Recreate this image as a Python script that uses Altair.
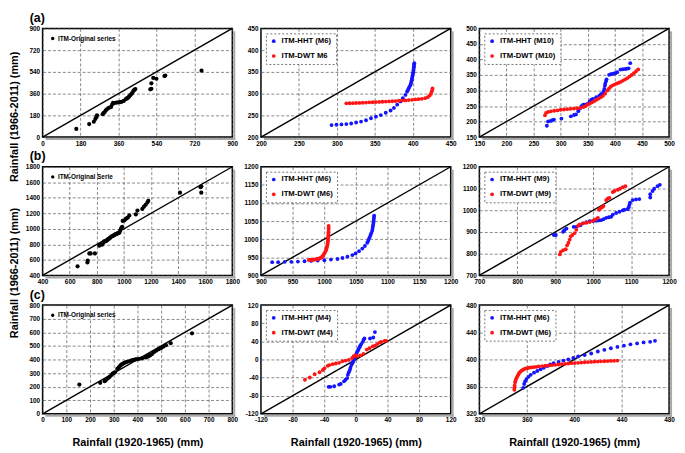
import altair as alt
import pandas as pd

FONT = "Liberation Sans"

# ---------------- data ----------------
# (a) row
a1_x = [160, 221, 243, 250, 255, 258, 285, 290, 295, 300, 305, 312, 318, 325, 330, 334, 340, 350, 360, 368,
        375, 385, 395, 400, 405, 410, 415, 420, 425, 430, 435, 440, 511, 516, 516, 525, 540, 578, 582, 754]
a1_y = [68, 108, 127, 150, 165, 181, 190, 200, 208, 222, 230, 240, 245, 250, 270, 283, 282, 285, 288, 290,
        292, 300, 315, 320, 325, 335, 345, 355, 365, 380, 392, 398, 396, 400, 445, 490, 483, 505, 510, 550]

a2_hht_x = [293.0, 299.5, 306.0, 312.5, 318.9, 325.4, 331.9, 338.4, 344.9, 351.4, 357.9, 364.4, 370.8, 375.2,
            379.5, 383.8, 386.9, 390.3, 392.5, 393.5, 394.6, 395.6, 396.8, 397.5, 398.1, 398.6, 399.0, 399.4,
            399.8, 400.2, 400.7, 400.9, 401.1, 401.4, 401.6, 401.8, 402.0]
a2_hht_y = [227.6, 228.4, 229.1, 229.9, 231.3, 233.6, 235.8, 238.8, 243.3, 247.0, 250.7, 256.0, 261.2, 267.2,
            274.6, 282.1, 289.6, 297.0, 304.5, 308.0, 311.9, 315.6, 319.4, 323.0, 326.9, 330.6, 334.3, 338.0,
            341.8, 345.5, 349.3, 353.0, 356.7, 360.5, 364.2, 367.0, 370.1]
a2_dwt_x = [312.5, 316.8, 321.1, 325.4, 329.8, 334.1, 338.4, 342.7, 347.1, 351.4, 355.7, 360.0, 364.4, 368.7,
            373.0, 377.3, 381.7, 386.0, 390.3, 394.6, 399.0, 403.3, 407.6, 411.9, 416.3, 419.7, 422.3, 424.0,
            424.9, 425.8, 426.0]
a2_dwt_y = [277.6, 277.8, 278.0, 278.4, 278.7, 279.1, 279.5, 279.9, 280.2, 280.6, 281.0, 281.3, 281.7, 282.1,
            282.5, 282.8, 283.6, 284.0, 284.3, 285.1, 285.8, 286.6, 287.3, 288.1, 289.6, 291.8, 295.5, 300.0,
            304.5, 309.0, 312.0]

a3_hht_x = [274.5, 276.9, 281.7, 284.6, 287.6, 301.4, 318.8, 324.7, 328.3, 332.5, 335.5, 338.5, 341.5, 344.5,
            347.5, 350.5, 353.5, 356.5, 359.5, 365.4, 371.4, 374.4, 377.4, 379.0, 380.4, 381.5, 382.2, 383.5,
            384.6, 389.4, 392.5, 395.4, 398.5, 401.3, 404.3, 410.3, 414.5, 419.3, 422.5, 425.3, 428.3]
a3_hht_y = [186.6, 200.2, 202.2, 204.3, 206.4, 209.6, 216.9, 221.1, 223.1, 233.6, 242.0, 249.3, 254.5, 254.5,
            255.5, 257.6, 264.9, 270.2, 273.3, 278.5, 283.8, 287.9, 290.0, 296.0, 305.0, 315.0, 322.0, 329.7,
            336.0, 350.6, 352.5, 353.8, 354.8, 355.9, 359.0, 367.3, 368.5, 369.4, 370.5, 371.5, 388.2]
a3_dwt_x = [271, 273, 277, 282, 288, 294, 300, 306, 312, 318, 324, 330, 336, 342, 346, 350, 354, 358, 362, 366,
            370, 374, 378, 382, 386, 389, 392, 395, 399, 403, 407, 411, 415, 419, 423, 427, 431, 435, 439, 443]
a3_dwt_y = [220, 228, 231, 233, 235, 236, 238, 239, 240, 241, 242, 243, 244, 247, 250, 255, 258, 262, 266, 270,
            274, 278, 283, 290, 300, 306, 312, 316, 319, 322, 325, 328, 332, 336, 340, 345, 350, 356, 362, 368]

# (b) row
b1_x = [658, 731, 733, 745, 755, 786, 818, 822, 839, 847, 854, 865, 871, 877, 883, 889, 895, 901, 907, 913,
        919, 925, 931, 937, 943, 949, 955, 961, 967, 972, 979, 987, 991, 1004, 1016, 1028, 1040, 1088, 1100,
        1136, 1148, 1161, 1173, 1180, 1414, 1566, 1571, 1571]
b1_y = [517, 567, 592, 684, 684, 684, 784, 793, 797, 818, 839, 840, 847, 855, 868, 872, 880, 890, 901, 905,
        910, 915, 922, 928, 935, 938, 943, 948, 952, 977, 1006, 1027, 1102, 1110, 1131, 1144, 1173, 1186, 1236,
        1257, 1286, 1311, 1340, 1361, 1466, 1537, 1549, 1466]

b2_hht_x = [917.7, 927.1, 937.6, 948.0, 958.4, 968.9, 979.3, 989.7, 1000.2, 1010.6, 1021.0, 1028.9, 1036.7,
            1044.5, 1049.7, 1055.0, 1060.2, 1064.3, 1068.0, 1069.5, 1070.6, 1072.0, 1073.2, 1074.5, 1075.8,
            1076.4, 1076.9, 1077.4, 1077.9, 1078.2, 1078.4, 1078.7, 1079.0]
b2_hht_y = [936.6, 936.6, 937.5, 937.5, 938.4, 939.3, 940.2, 941.1, 942.0, 943.8, 945.5, 948.2, 951.8,
            956.3, 960.7, 967.0, 974.1, 981.3, 990.2, 995.0, 1000.9, 1006.0, 1011.6, 1017.0, 1023.2,
            1029.0, 1034.8, 1040.0, 1045.5, 1051.0, 1056.3, 1061.0, 1065.2]
b2_dwt_x = [975.7, 977.5, 979.3, 981.0, 982.8, 984.5, 986.2, 988.0, 989.7, 991.5, 993.2, 995.0, 996.3, 997.6,
            998.9, 1000.2, 1001.5, 1002.8, 1003.6, 1004.3, 1004.9, 1005.4, 1005.7, 1005.9, 1006.2, 1006.4,
            1006.6, 1006.7, 1006.8, 1006.9, 1007.0, 1007.0]
b2_dwt_y = [942.9, 943.0, 943.0, 943.3, 943.6, 943.8, 944.3, 944.9, 945.5, 946.5, 947.6, 949.1, 951.2, 953.6,
            957.0, 960.7, 965.0, 969.6, 974.0, 978.6, 983.0, 987.5, 992.0, 996.4, 1001.0, 1005.4,
            1010.0, 1014.3, 1019.0, 1023.2, 1030.0, 1036.6]

b3_hht_x = [896.3, 901.6, 920.8, 924.0, 929.5, 948.7, 955.7, 966.1, 973.1, 981.8, 990.6, 1000.0, 1008.0, 1015.0,
            1021.1, 1027.2, 1034.2, 1041.2, 1047.3, 1051.7, 1060.4, 1069.1, 1077.8, 1082.2, 1090.9, 1093.5,
            1095.3, 1097.0, 1104.0, 1112.7, 1121.5, 1150.3, 1150.3, 1156.4, 1160.7, 1169.5, 1175.6]
b3_hht_y = [886.0, 886.0, 900.9, 908.0, 915.8, 923.2, 923.2, 930.7, 939.6, 945.5, 950.0, 950.5, 951.5, 953.0,
            954.5, 958.9, 964.9, 967.9, 969.9, 979.8, 987.2, 993.2, 999.1, 1002.1, 1005.1, 1014.0,
            1024.4, 1034.8, 1046.7, 1049.7, 1051.2, 1058.6, 1073.5, 1088.4, 1098.8, 1110.7, 1116.7]
b3_dwt_x = [912.0, 914.7, 920.8, 927.7, 931.2, 934.7, 938.2, 940.8, 945.2, 951.3, 955.7, 960.0, 964.4, 973.1,
            981.8, 990.6, 999.3, 1006.3, 1012.4, 1015.0, 1018.5, 1023.7, 1027.2, 1034.2, 1038.6, 1043.0,
            1051.7, 1056.0, 1064.8, 1070.9, 1077.8, 1084.8]
b3_dwt_y = [796.7, 808.6, 816.1, 820.5, 838.4, 850.3, 865.2, 880.1, 886.0, 894.9, 909.8, 927.7, 935.1, 939.6,
            942.6, 945.5, 951.5, 957.4, 964.9, 1002.1, 1008.0, 1014.0, 1019.9, 1046.7, 1054.2, 1057.1,
            1083.9, 1088.4, 1094.3, 1098.8, 1106.3, 1110.7]

# (c) row
c1_x = [155, 243, 262, 268, 272, 278, 283, 290, 295, 300, 305, 315, 320, 325, 330, 335, 340, 345, 352, 360,
        370, 378, 385, 392, 400, 410, 420, 435, 440, 445, 450, 455, 462, 470, 480, 490, 500, 510, 520, 540, 630]
c1_y = [215, 228, 240, 250, 258, 265, 272, 285, 295, 300, 305, 330, 338, 350, 358, 365, 370, 375, 380, 385,
        390, 395, 398, 400, 402, 405, 408, 415, 420, 422, 428, 432, 440, 455, 465, 475, 485, 495, 505, 520, 592]

c2_hht_x = [-34.4, -32.3, -27.4, -21.2, -19.1, -15.0, -13.0, -10.9, -10.1, -8.9, -7.6, -6.8, -5.6, -4.7, -3.5,
            -2.7, -1.4, -0.6, 0.6, 1.4, 2.7, 3.5, 4.7, 5.6, 6.8, 8.9, 9.7, 10.9, 17.9, 22.0, 24.1]
c2_hht_y = [-60.5, -60.5, -59.1, -55.5, -54.1, -48.4, -44.8, -41.2, -34.0, -28.3, -23.3, -18.3, -12.5, -9.0,
            -5.4, -1.8, 3.2, 7.5, 12.5, 16.1, 19.7, 23.3, 26.9, 30.4, 34.0, 39.0, 43.3, 46.2, 46.2, 48.4, 60.5]
c2_dwt_x = [-64.4, -58.3, -52.1, -45.9, -41.8, -39.7, -35.6, -33.6, -29.4, -25.3, -21.2, -17.1, -13.0, -8.9,
            -4.7, -2.7, -0.6, 1.4, 5.6, 9.7, 13.8, 17.1, 21.2, 24.1, 27.0, 30.3, 32.3, 36.4, 38.5]
c2_dwt_y = [-44.8, -39.8, -32.6, -28.3, -23.3, -19.7, -14.0, -12.5, -10.4, -9.0, -7.5, -3.9, -2.5, -1.1,
            3.2, 7.5, 9.0, 7.5, 9.0, 12.5, 21.8, 24.7, 29.0, 30.4, 34.0, 37.6, 39.0, 41.2, 41.2]

c3_hht_x = [357.0, 357.8, 358.6, 359.7, 361.4, 363.3, 366.1, 368.8, 371.6, 374.3, 377.1, 379.9, 382.6, 386.8,
            390.9, 395.0, 399.2, 403.3, 408.8, 414.3, 419.9, 425.4, 430.9, 436.4, 441.9, 447.4, 453.0, 458.5,
            464.0, 468.1]
c3_hht_y = [358.2, 363.9, 367.8, 371.1, 374.4, 377.3, 380.6, 383.0, 385.4, 387.8, 390.2, 392.6, 394.5, 396.4,
            398.3, 400.2, 402.1, 404.5, 406.4, 408.8, 411.7, 414.1, 416.5, 418.4, 420.3, 422.2, 423.6, 425.1,
            426.0, 427.4]
c3_dwt_x = [349.5, 349.5, 349.8, 350.1, 350.5, 350.9, 351.6, 352.3, 353.0, 353.7, 354.8, 355.9, 357.2, 358.6,
            360.2, 361.9, 364.0, 366.1, 368.1, 370.2, 373.0, 375.7, 378.5, 381.2, 384.0, 386.8, 389.5, 392.3,
            395.0, 397.8, 400.5, 403.3, 406.0, 408.8, 411.5, 414.3, 417.1, 419.9, 422.6, 425.4, 428.2, 430.9,
            433.6, 436.4]
c3_dwt_y = [355.3, 358.4, 361.5, 366.3, 368.7, 371.1, 373.5, 375.9, 378.2, 380.6, 382.3, 384.0, 385.2, 386.4,
            387.1, 387.8, 388.3, 388.8, 389.2, 389.7, 390.2, 390.7, 391.1, 391.6, 392.1, 392.6, 393.0, 393.5,
            394.0, 394.5, 394.7, 395.0, 395.4, 395.9, 396.1, 396.4, 396.7, 396.9, 397.2, 397.4, 397.6, 397.8,
            398.0, 398.3]

# axis ranges and tick labels
a1_ticks = [0, 180, 360, 540, 720, 900]
a2_ticks = [200, 250, 300, 350, 400, 450]
a3_ticks = [150, 200, 250, 300, 350, 400, 450, 500]
b1_ticks = [400, 600, 800, 1000, 1200, 1400, 1600, 1800]
b2_ticks = [900, 950, 1000, 1050, 1100, 1150, 1200]
b3_ticks = [700, 800, 900, 1000, 1100, 1200]
c1_ticks = [0, 100, 200, 300, 400, 500, 600, 700, 800]
c2_ticks = [-120, -80, -40, 0, 40, 80, 120]
c3_ticks = [320, 360, 400, 440, 480]

X_TITLE = "Rainfall (1920-1965) (mm)"
Y_TITLE = "Rainfall (1966-2011) (mm)"

BLUE = "#1414ff"
RED = "#ff1414"
BLACK = "#000000"

W, H = 192, 110


def panel(series, labels, colors, ticks, boxed, title=None, ytitle_y=None, xtitle=None):
    frames = []
    for (xs, ys), lab in zip(series, labels):
        frames.append(pd.DataFrame({"x": xs, "y": ys, "s": lab}))
    pts = pd.concat(frames, ignore_index=True)
    lo, hi = ticks[0], ticks[-1]
    diag = pd.DataFrame({"x": [lo, hi], "y": [lo, hi]})

    common = dict(values=ticks, grid=True, gridColor="#555555", gridDash=[3, 2], gridWidth=0.7,
                  ticks=False, domain=False, labelFont=FONT, labelFontSize=6.5, labelFontWeight="bold",
                  labelColor="black", labelPadding=3, labelExpr="'' + datum.value",
                  labelOverlap=False, labelFlush=False, labelBound=False)
    if xtitle:
        xaxis = alt.Axis(title=xtitle, titleFont=FONT, titleFontSize=11, titleFontWeight="bold",
                         titleColor="black", titlePadding=14, **common)
    else:
        xaxis = alt.Axis(title=None, **common)
    if ytitle_y is not None:
        yaxis = alt.Axis(title=Y_TITLE, titleFont=FONT, titleFontSize=11, titleFontWeight="bold",
                         titleColor="black", titleX=-23, titleY=ytitle_y, **common)
    else:
        yaxis = alt.Axis(title=None, **common)

    xs = alt.Scale(domain=[lo, hi], nice=False, zero=False)
    ys = alt.Scale(domain=[lo, hi], nice=False, zero=False)
    xenc = alt.X("x:Q", scale=xs, axis=xaxis)
    yenc = alt.Y("y:Q", scale=ys, axis=yaxis)

    if boxed:
        leg = alt.Legend(title=None, orient="top-left", offset=5, padding=4, rowPadding=6,
                         fillColor="white", strokeColor="#777777", symbolType="circle", symbolSize=14,
                         symbolStrokeWidth=0, labelFont=FONT, labelFontSize=7.8, labelFontWeight="bold",
                         labelColor="black", labelLimit=300)
        size = 15
    else:
        leg = alt.Legend(title=None, orient="top-left", offset=6, padding=1,
                         fillColor="rgba(0,0,0,0)", strokeColor="rgba(0,0,0,0)", symbolType="circle",
                         symbolSize=12, symbolStrokeWidth=0, labelFont=FONT, labelFontSize=6.5,
                         labelFontWeight="bold", labelColor="black", labelLimit=300, labelOffset=2)
        size = 18

    line = alt.Chart(diag).mark_line(color="black", strokeWidth=1.4).encode(x=xenc, y=yenc)
    dots = alt.Chart(pts).mark_circle(size=size, opacity=1).encode(
        x=xenc, y=yenc,
        color=alt.Color("s:N", scale=alt.Scale(domain=labels, range=colors), legend=leg),
    )
    one = pd.DataFrame({"k": [0]})
    shadow_r = alt.Chart(one).mark_rect(color="#a8a8a8").encode(
        x=alt.value(W + 1), x2=alt.value(W + 3), y=alt.value(3), y2=alt.value(H + 3))
    shadow_b = alt.Chart(one).mark_rect(color="#a8a8a8").encode(
        x=alt.value(3), x2=alt.value(W + 3), y=alt.value(H + 1), y2=alt.value(H + 3))

    ch = alt.layer(shadow_r, shadow_b, line, dots).properties(width=W, height=H)
    if title:
        ch = ch.properties(title=alt.TitleParams(text=title, anchor="start", frame="group", dx=-13,
                                                 offset=1, fontSize=12.5, font=FONT, fontWeight="bold",
                                                 color="black"))
    return ch


panels = [
    panel([(a1_x, a1_y)], ["ITM-Original series"], [BLACK], a1_ticks, False, title="(a)", ytitle_y=89),
    panel([(a2_hht_x, a2_hht_y), (a2_dwt_x, a2_dwt_y)], ["ITM-HHT (M6)", "ITM-DWT M6"], [BLUE, RED],
          a2_ticks, True),
    panel([(a3_hht_x, a3_hht_y), (a3_dwt_x, a3_dwt_y)], ["ITM-HHT (M10)", "ITM-DWT (M10)"], [BLUE, RED],
          a3_ticks, True),
    panel([(b1_x, b1_y)], ["ITM-Original Serie"], [BLACK], b1_ticks, False, title="(b)", ytitle_y=107),
    panel([(b2_hht_x, b2_hht_y), (b2_dwt_x, b2_dwt_y)], ["ITM-HHT (M6)", "ITM-DWT (M6)"], [BLUE, RED],
          b2_ticks, True),
    panel([(b3_hht_x, b3_hht_y), (b3_dwt_x, b3_dwt_y)], ["ITM-HHT (M9)", "ITM-DWT (M9)"], [BLUE, RED],
          b3_ticks, True),
    panel([(c1_x, c1_y)], ["ITM-Original series"], [BLACK], c1_ticks, False, title="(c)", xtitle=X_TITLE),
    panel([(c2_hht_x, c2_hht_y), (c2_dwt_x, c2_dwt_y)], ["ITM-HHT (M4)", "ITM-DWT (M4)"], [BLUE, RED],
          c2_ticks, True, xtitle=X_TITLE),
    panel([(c3_hht_x, c3_hht_y), (c3_dwt_x, c3_dwt_y)], ["ITM-HHT (M6)", "ITM-DWT (M6)"], [BLUE, RED],
          c3_ticks, True, xtitle=X_TITLE),
]

chart = (
    alt.concat(*panels, columns=3, spacing={"row": 30, "column": 29}, bounds="flush")
    .resolve_scale(x="independent", y="independent", color="independent")
    .resolve_legend(color="independent")
    .properties(padding={"left": 0, "top": 0, "right": 0, "bottom": 0}, background="white")
    .configure_view(stroke="black", strokeWidth=1.5)
    .configure_legend(strokeDash=[2, 2])
)

chart.save("out.html", embed_options={"renderer": "svg", "actions": False})
